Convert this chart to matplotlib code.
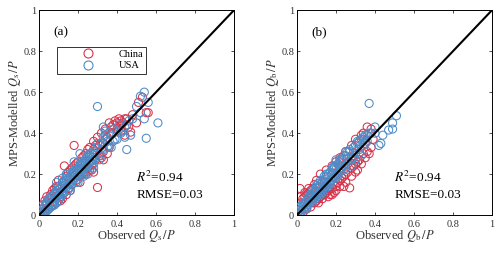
import matplotlib
matplotlib.use("Agg")
import matplotlib.pyplot as plt
from matplotlib.lines import Line2D

plt.rcParams.update({
    "font.family": ["Liberation Serif", "DejaVu Serif"],
    "mathtext.fontset": "stix",
    "font.size": 7.5,
    "axes.linewidth": 0.7,
    "xtick.direction": "in",
    "ytick.direction": "in",
    "xtick.top": True,
    "ytick.right": True,
    "xtick.major.size": 2.5,
    "ytick.major.size": 2.5,
    "xtick.major.width": 0.6,
    "ytick.major.width": 0.6,
})

RED = "#d9334a"
BLUE = "#4d8cc8"

# ---------------------------------------------------------------------------
# Panel (a): surface runoff ratio Qs/P
# ---------------------------------------------------------------------------
china_a_obs = [0.01, 0.02, 0.03, 0.03, 0.04, 0.05, 0.06, 0.07, 0.07, 0.08,
               0.09, 0.10, 0.10, 0.11, 0.12, 0.13, 0.13, 0.14, 0.15, 0.15,
               0.16, 0.17, 0.18, 0.18, 0.19, 0.20, 0.21, 0.22, 0.23, 0.24,
               0.25, 0.26, 0.27, 0.28, 0.29, 0.30, 0.30, 0.31, 0.32, 0.33,
               0.34, 0.35, 0.36, 0.37, 0.38, 0.39, 0.40, 0.41, 0.42, 0.43,
               0.44, 0.45, 0.46, 0.47, 0.53, 0.55, 0.56, 0.50, 0.35, 0.33,
               0.22, 0.24, 0.12, 0.05, 0.02, 0.16, 0.26, 0.29, 0.31, 0.36,
               0.44, 0.48, 0.51, 0.04, 0.06, 0.08, 0.09, 0.11, 0.14, 0.17,
               0.19, 0.21, 0.23, 0.25, 0.27, 0.28, 0.32, 0.34, 0.37, 0.40,
               0.42, 0.38, 0.45, 0.33, 0.28]
china_a_mod = [0.03, 0.05, 0.02, 0.07, 0.09, 0.03, 0.10, 0.05, 0.12, 0.11,
               0.06, 0.14, 0.17, 0.09, 0.16, 0.24, 0.11, 0.19, 0.13, 0.21,
               0.22, 0.15, 0.34, 0.24, 0.17, 0.26, 0.19, 0.28, 0.21, 0.30,
               0.23, 0.33, 0.25, 0.36, 0.27, 0.38, 0.135, 0.29, 0.40, 0.31,
               0.42, 0.38, 0.45, 0.40, 0.44, 0.46, 0.42, 0.47, 0.41, 0.45,
               0.47, 0.47, 0.43, 0.405, 0.575, 0.50, 0.50, 0.45, 0.30, 0.35,
               0.20, 0.20, 0.08, 0.08, 0.01, 0.12, 0.22, 0.34, 0.34, 0.33,
               0.39, 0.49, 0.55, 0.06, 0.04, 0.13, 0.14, 0.07, 0.10, 0.23,
               0.25, 0.16, 0.29, 0.32, 0.22, 0.32, 0.28, 0.37, 0.43, 0.45,
               0.46, 0.40, 0.44, 0.27, 0.21]

usa_a_obs = [0.005, 0.01, 0.015, 0.02, 0.025, 0.03, 0.035, 0.04, 0.045, 0.05,
             0.055, 0.06, 0.065, 0.07, 0.075, 0.08, 0.085, 0.09, 0.095, 0.10,
             0.105, 0.11, 0.115, 0.12, 0.125, 0.13, 0.135, 0.14, 0.145, 0.15,
             0.155, 0.16, 0.165, 0.17, 0.175, 0.18, 0.185, 0.19, 0.195, 0.20,
             0.205, 0.21, 0.215, 0.22, 0.225, 0.23, 0.235, 0.24, 0.245, 0.25,
             0.255, 0.26, 0.265, 0.27, 0.275, 0.28, 0.29, 0.30, 0.31, 0.32,
             0.33, 0.34, 0.35, 0.36, 0.38, 0.40, 0.42, 0.30, 0.61, 0.55,
             0.45, 0.54, 0.52, 0.50, 0.56, 0.54, 0.47, 0.44, 0.33, 0.34,
             0.21, 0.18, 0.12, 0.09, 0.25, 0.28, 0.37, 0.16, 0.10, 0.06,
             0.14, 0.23, 0.40, 0.46, 0.20, 0.08,
             0.02, 0.04, 0.06, 0.08, 0.10, 0.12, 0.14, 0.16, 0.18, 0.20,
             0.22, 0.24, 0.26, 0.28, 0.30, 0.32, 0.34, 0.36, 0.03, 0.05,
             0.07, 0.09, 0.11, 0.13, 0.15, 0.17, 0.19, 0.21, 0.23, 0.25,
             0.27, 0.29, 0.31, 0.33, 0.35, 0.38, 0.39, 0.41, 0.43, 0.48,
             0.52, 0.44]
usa_a_mod = [0.01, 0.02, 0.005, 0.03, 0.015, 0.045, 0.03, 0.05, 0.035, 0.07,
             0.05, 0.075, 0.06, 0.09, 0.065, 0.10, 0.08, 0.11, 0.09, 0.125,
             0.10, 0.13, 0.11, 0.145, 0.12, 0.16, 0.13, 0.17, 0.14, 0.175,
             0.15, 0.19, 0.16, 0.20, 0.17, 0.21, 0.18, 0.22, 0.19, 0.23,
             0.20, 0.24, 0.21, 0.25, 0.22, 0.26, 0.23, 0.27, 0.24, 0.28,
             0.25, 0.29, 0.26, 0.30, 0.27, 0.31, 0.28, 0.33, 0.30, 0.35,
             0.32, 0.37, 0.33, 0.40, 0.36, 0.41, 0.40, 0.53, 0.45, 0.375,
             0.32, 0.60, 0.58, 0.53, 0.55, 0.47, 0.39, 0.38, 0.43, 0.41,
             0.30, 0.26, 0.18, 0.16, 0.20, 0.23, 0.33, 0.12, 0.07, 0.04,
             0.20, 0.19, 0.37, 0.46, 0.16, 0.05,
             0.05, 0.02, 0.09, 0.06, 0.14, 0.10, 0.18, 0.135, 0.22, 0.175,
             0.26, 0.21, 0.30, 0.25, 0.35, 0.29, 0.39, 0.34, 0.01, 0.08,
             0.045, 0.12, 0.085, 0.17, 0.125, 0.21, 0.16, 0.25, 0.20, 0.29,
             0.24, 0.33, 0.27, 0.38, 0.36, 0.42, 0.37, 0.44, 0.41, 0.47,
             0.50, 0.43]

# ---------------------------------------------------------------------------
# Panel (b): baseflow ratio Qb/P
# ---------------------------------------------------------------------------
china_b_obs = [0.015, 0.01, 0.02, 0.03, 0.04, 0.05, 0.06, 0.07, 0.08, 0.03,
               0.05, 0.07, 0.09, 0.10, 0.11, 0.12, 0.13, 0.14, 0.15, 0.16,
               0.17, 0.18, 0.19, 0.20, 0.21, 0.22, 0.23, 0.24, 0.25, 0.26,
               0.27, 0.28, 0.29, 0.30, 0.31, 0.32, 0.34, 0.36, 0.37, 0.36,
               0.38, 0.33, 0.30, 0.25, 0.20, 0.15, 0.10, 0.12, 0.18, 0.22,
               0.06, 0.08, 0.14, 0.26, 0.29, 0.35, 0.24, 0.19, 0.31, 0.17,
               0.02, 0.04, 0.06, 0.09, 0.11, 0.13, 0.16, 0.18, 0.20, 0.22,
               0.25, 0.28, 0.30, 0.33, 0.35, 0.38, 0.39, 0.34, 0.28, 0.24]
china_b_mod = [0.13, 0.04, 0.06, 0.08, 0.09, 0.10, 0.11, 0.12, 0.13, 0.01,
               0.03, 0.04, 0.06, 0.07, 0.08, 0.09, 0.10, 0.10, 0.11, 0.12,
               0.13, 0.13, 0.15, 0.14, 0.16, 0.17, 0.18, 0.19, 0.20, 0.21,
               0.133, 0.23, 0.24, 0.25, 0.26, 0.27, 0.30, 0.31, 0.30, 0.43,
               0.42, 0.39, 0.37, 0.31, 0.26, 0.22, 0.17, 0.20, 0.24, 0.28,
               0.08, 0.06, 0.16, 0.25, 0.29, 0.35, 0.14, 0.11, 0.22, 0.10,
               0.09, 0.11, 0.13, 0.15, 0.06, 0.08, 0.09, 0.10, 0.12, 0.14,
               0.16, 0.19, 0.21, 0.25, 0.28, 0.33, 0.37, 0.40, 0.34, 0.29]

usa_b_obs = [0.005, 0.01, 0.015, 0.02, 0.025, 0.03, 0.035, 0.04, 0.045, 0.05,
             0.055, 0.06, 0.065, 0.07, 0.075, 0.08, 0.085, 0.09, 0.095, 0.10,
             0.105, 0.11, 0.115, 0.12, 0.125, 0.13, 0.135, 0.14, 0.145, 0.15,
             0.155, 0.16, 0.165, 0.17, 0.175, 0.18, 0.185, 0.19, 0.195, 0.20,
             0.205, 0.21, 0.215, 0.22, 0.225, 0.23, 0.24, 0.25, 0.26, 0.27,
             0.28, 0.29, 0.30, 0.31, 0.32, 0.33, 0.34, 0.35, 0.36, 0.37,
             0.51, 0.49, 0.47, 0.42, 0.43, 0.49, 0.36, 0.34, 0.38, 0.40,
             0.33, 0.28, 0.25, 0.20, 0.12, 0.08, 0.18, 0.22, 0.30, 0.15,
             0.10, 0.32,
             0.02, 0.04, 0.06, 0.08, 0.10, 0.12, 0.14, 0.16, 0.18, 0.20,
             0.22, 0.24, 0.26, 0.28, 0.30, 0.32, 0.34, 0.03, 0.05, 0.07,
             0.09, 0.11, 0.13, 0.15, 0.17, 0.19, 0.21, 0.23, 0.25, 0.27,
             0.29, 0.31, 0.35, 0.37, 0.44, 0.40]
usa_b_mod = [0.01, 0.02, 0.005, 0.03, 0.02, 0.045, 0.03, 0.055, 0.04, 0.065,
             0.05, 0.08, 0.06, 0.09, 0.07, 0.10, 0.08, 0.115, 0.09, 0.13,
             0.10, 0.14, 0.11, 0.15, 0.12, 0.165, 0.13, 0.175, 0.14, 0.19,
             0.15, 0.20, 0.16, 0.21, 0.17, 0.22, 0.18, 0.23, 0.19, 0.24,
             0.20, 0.25, 0.21, 0.26, 0.22, 0.27, 0.24, 0.29, 0.26, 0.31,
             0.28, 0.33, 0.30, 0.35, 0.32, 0.37, 0.34, 0.39, 0.39, 0.545,
             0.485, 0.45, 0.415, 0.34, 0.35, 0.42, 0.36, 0.38, 0.40, 0.40,
             0.29, 0.24, 0.31, 0.27, 0.17, 0.12, 0.20, 0.23, 0.27, 0.16,
             0.11, 0.36,
             0.045, 0.025, 0.09, 0.065, 0.145, 0.10, 0.19, 0.14, 0.23, 0.18,
             0.27, 0.22, 0.31, 0.27, 0.34, 0.30, 0.37, 0.06, 0.035, 0.10,
             0.075, 0.155, 0.11, 0.20, 0.15, 0.24, 0.19, 0.28, 0.23, 0.32,
             0.28, 0.36, 0.35, 0.40, 0.39, 0.43]

panels = [
    ("(a)", "s", china_a_obs, china_a_mod, usa_a_obs, usa_a_mod, True),
    ("(b)", "b", china_b_obs, china_b_mod, usa_b_obs, usa_b_mod, False),
]
r2_text = r"$\mathit{R}^2$=0.94"
rmse_text = "RMSE=0.03"
ticks = [0, 0.2, 0.4, 0.6, 0.8, 1]
tick_labels = ["0", "0.2", "0.4", "0.6", "0.8", "1"]

fig = plt.figure(figsize=(5.0, 2.54), dpi=100)
axes = [fig.add_axes([0.078, 0.153, 0.39, 0.807]),
        fig.add_axes([0.594, 0.153, 0.39, 0.807])]

for ax, (tag, sub, c_obs, c_mod, u_obs, u_mod, show_leg) in zip(axes, panels):
    ax.scatter(c_obs, c_mod, s=34, facecolors="none", edgecolors=RED,
               linewidths=0.75, zorder=2)
    ax.scatter(u_obs, u_mod, s=34, facecolors="none", edgecolors=BLUE,
               linewidths=0.75, zorder=3)
    ax.plot([0, 1], [0, 1], color="black", lw=1.5, zorder=4)

    ax.set_xlim(0, 1)
    ax.set_ylim(0, 1)
    ax.set_xticks(ticks)
    ax.set_yticks(ticks)
    ax.set_xticklabels(tick_labels)
    ax.set_yticklabels(tick_labels)
    ax.tick_params(axis="x", pad=3.5, colors="#333333")
    ax.tick_params(axis="y", pad=2, colors="#333333")

    q = r"$\mathit{Q}_{\mathrm{" + sub + r"}}\,/\mathit{P}$"
    ax.set_xlabel("Observed " + q, fontsize=9, labelpad=-1, color="#333333")
    ax.set_ylabel("MPS-Modelled " + q, fontsize=9, labelpad=0, color="#333333")

    ax.text(0.075, 0.89, tag, transform=ax.transAxes, fontsize=9.5,
            ha="left", va="center")
    ax.text(0.50, 0.185, r2_text, transform=ax.transAxes, fontsize=9.5,
            ha="left", va="center")
    ax.text(0.50, 0.098, rmse_text, transform=ax.transAxes, fontsize=9.5,
            ha="left", va="center")

    if show_leg:
        handles = [
            Line2D([0], [0], marker="o", ls="none", ms=6.5, mfc="none",
                   mec=RED, mew=0.8, label="China"),
            Line2D([0], [0], marker="o", ls="none", ms=6.5, mfc="none",
                   mec=BLUE, mew=0.8, label="USA"),
        ]
        leg = ax.legend(handles=handles, loc="upper left",
                        bbox_to_anchor=(0.092, 0.822), borderaxespad=0,
                        fontsize=7.5, frameon=True, fancybox=False,
                        handlelength=5.4, handletextpad=0.2,
                        labelspacing=0.2, borderpad=0.3)
        leg.get_frame().set_edgecolor("black")
        leg.get_frame().set_linewidth(0.7)

fig.savefig("out.png", dpi=100)
